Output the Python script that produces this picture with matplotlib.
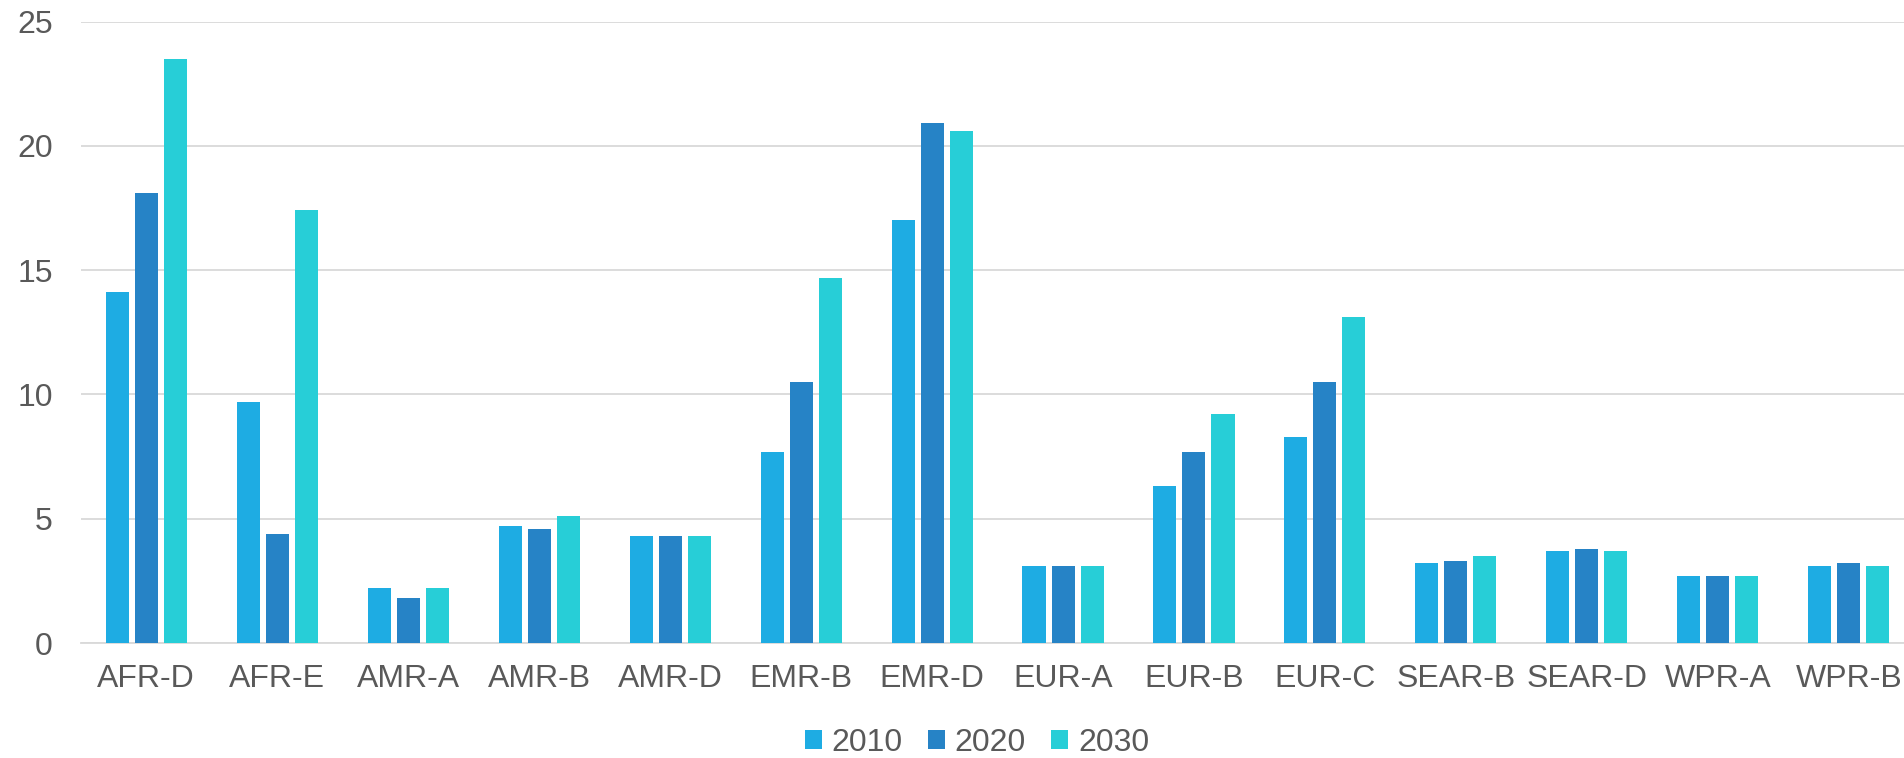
import numpy as np
import matplotlib
matplotlib.use('Agg')
from matplotlib import pyplot as plt

regions = ['AFR-D', 'AFR-E', 'AMR-A', 'AMR-B', 'AMR-D', 'EMR-B', 'EMR-D',
           'EUR-A', 'EUR-B', 'EUR-C', 'SEAR-B', 'SEAR-D', 'WPR-A', 'WPR-B']
years = ['2010', '2020', '2030']
v2010 = [14.1, 9.7, 2.2, 4.7, 4.3, 7.7, 17.0, 3.1, 6.3, 8.3, 3.2, 3.7, 2.7, 3.1]
v2020 = [18.1, 4.4, 1.8, 4.6, 4.3, 10.5, 20.9, 3.1, 7.7, 10.5, 3.3, 3.8, 2.7, 3.2]
v2030 = [23.5, 17.4, 2.2, 5.1, 4.3, 14.7, 20.6, 3.1, 9.2, 13.1, 3.5, 3.7, 2.7, 3.1]
yticks = [0, 5, 10, 15, 20, 25]

colors = ['#1EACE3', '#2683C6', '#27CED7']
text_col = '#595959'
grid_col = '#D9D9D9'

plt.rcParams['font.family'] = ['Liberation Sans', 'DejaVu Sans']

fig = plt.figure(figsize=(19.04, 7.58), dpi=100)
ax = fig.add_axes([0.0423, 0.1517, 0.9632, 0.8199])

x = np.arange(len(regions))
step = 0.2214
width = 0.1756
for i, (vals, yr) in enumerate(zip([v2010, v2020, v2030], years)):
    ax.bar(x + (i - 1) * step, vals, width=width, color=colors[i], label=yr,
           zorder=3)

ax.set_xlim(-0.5, len(regions) - 0.5)
ax.set_ylim(0, 25)
ax.set_yticks(yticks)
ax.set_xticks(x)
ax.set_xticklabels(regions)
ax.tick_params(axis='both', length=0, labelsize=23, labelcolor=text_col)
ax.tick_params(axis='y', pad=20)
ax.tick_params(axis='x', pad=15)

ax.grid(axis='y', color=grid_col, linewidth=1.3, zorder=0)
for s in ['top', 'right', 'left']:
    ax.spines[s].set_visible(False)
ax.spines['bottom'].set_color(grid_col)
ax.spines['bottom'].set_linewidth(1.3)

fig.legend(loc='center', bbox_to_anchor=(977 / 1904, 0.0198), ncol=3,
           frameon=False, fontsize=23, labelcolor=text_col,
           handlelength=0.53, handleheight=0.53, handletextpad=0.3,
           columnspacing=0.8)

fig.savefig('out.png', dpi=100)
